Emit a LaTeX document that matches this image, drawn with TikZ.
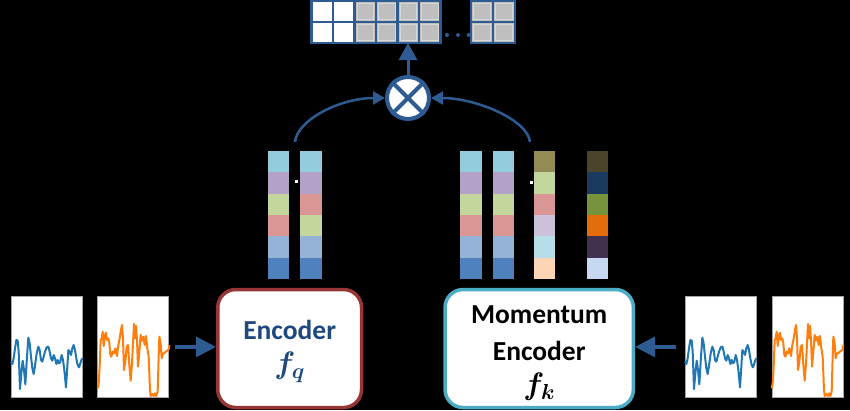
\RequirePackage{fix-cm}
\documentclass[tikz,border=0pt]{standalone}
\usepackage{fontspec}
\setmainfont{Carlito}
\usepackage{bm}
\usetikzlibrary{arrows.meta}
\definecolor{arrowblue}{HTML}{2E5C92}
\definecolor{encblue}{HTML}{1F497D}
\definecolor{encred}{HTML}{963634}
\definecolor{momcyan}{HTML}{4BACC6}
\definecolor{qgray}{HTML}{BFBFBF}
\definecolor{qlight}{HTML}{D6D6D6}
\definecolor{wblue}{HTML}{1F77B4}
\definecolor{worange}{HTML}{FF7F0E}
\definecolor{cLB}{HTML}{93CDDD}
\definecolor{cLAV}{HTML}{B3A2C7}
\definecolor{cGR}{HTML}{C3D69B}
\definecolor{cPK}{HTML}{D99694}
\definecolor{cSB}{HTML}{95B3D7}
\definecolor{cBL}{HTML}{4F81BD}
\definecolor{cOL}{HTML}{948A54}
\definecolor{cPL}{HTML}{CCC1DA}
\definecolor{cCY}{HTML}{B7DEE8}
\definecolor{cPE}{HTML}{FCD5B5}
\definecolor{cDO}{HTML}{4A452A}
\definecolor{cNV}{HTML}{1B3A60}
\definecolor{cOG}{HTML}{77933C}
\definecolor{cOR}{HTML}{E46C0A}
\definecolor{cDP}{HTML}{403151}
\definecolor{cPB}{HTML}{C6D9F1}
\newcommand{\mathbig}[2]{{\fontsize{31}{36}\selectfont$\bm{#1}_{\bm{#2}}$}}
\tikzset{
  panel/.style={draw=gray!70, fill=white, line width=0.8pt, minimum width=71pt, minimum height=101.7pt, inner sep=0pt},
  encbox/.style={fill=white, line width=3.5pt, rounded corners=18pt, minimum height=118pt, inner sep=0pt},
  boxtext/.style={align=center, inner sep=0pt, font=\fontsize{27.5}{36.5}\selectfont\bfseries},
  wave/.style={line width=2pt, line join=round},
  bigarrow/.style={draw=arrowblue, line width=3.5pt, -{Triangle[length=20pt,width=20pt]}},
  sidearrow/.style={draw=arrowblue, line width=2.5pt, -{Triangle[length=12pt,width=13pt]}},
}
\begin{document}
\begin{tikzpicture}[x=1pt,y=-1pt]
\fill[black] (0,0) rectangle (850,410);
\useasboundingbox (0,0) rectangle (850,410);

% queue
\node (queue) [minimum width=129pt, minimum height=42pt, inner sep=0pt, outer sep=0pt] at (376.2,22) {};
\fill[white] (311.7,1) rectangle (354.7,43);
\fill[qgray] (354.7,1) rectangle (440.7,43);
\fill[qgray] (471,1) rectangle (515,43);
\foreach \i in {2,...,5}{
  \draw[qlight, line width=0.8pt] ({311.7+21.5*\i+2.5},3.5) rectangle ++(16.5,16);
  \draw[qlight, line width=0.8pt] ({311.7+21.5*\i+2.5},24.5) rectangle ++(16.5,16);
}
\foreach \i in {0,1}{
  \draw[qlight, line width=0.8pt] ({471+22*\i+2.5},3.5) rectangle ++(17,16);
  \draw[qlight, line width=0.8pt] ({471+22*\i+2.5},24.5) rectangle ++(17,16);
}
\draw[arrowblue, line width=2.5pt] (311.7,1) rectangle (440.7,43) (311.7,22) -- (440.7,22);
\foreach \i in {1,...,5}{ \draw[arrowblue, line width=2.5pt] ({311.7+21.5*\i},1) -- ++(0,42); }
\draw[arrowblue, line width=2.5pt] (471,1) rectangle (515,43) (471,22) -- (515,22) (493,1) -- (493,43);
\foreach \x in {447,458,468.5}{ \fill[arrowblue] (\x,35) circle (2pt); }

% multiplication circle
\node (mult) [circle, draw=arrowblue, fill=white, line width=4pt, minimum size=42pt, inner sep=0pt] at (408,98) {};
\draw[arrowblue, line width=4pt] (mult.north west) -- (mult.south east) (mult.north east) -- (mult.south west);
\draw[draw=arrowblue, line width=3pt, -{Triangle[length=17pt,width=18pt]}] (mult.north) -- (mult.north |- queue.south);

% columns
\foreach \x/\cols in {267.7/{cLB,cLAV,cGR,cPK,cSB,cBL}, 300/{cLB,cLAV,cPK,cGR,cSB,cBL}, 460/{cLB,cLAV,cGR,cPK,cSB,cBL}, 492.7/{cLB,cLAV,cGR,cPK,cSB,cBL}, 533.7/{cOL,cGR,cPK,cPL,cCY,cPE}, 586.7/{cDO,cNV,cOG,cOR,cDP,cPB}}{
  \foreach \c [count=\i from 0] in \cols {
    \fill[\c] (\x,{151+21.333*\i}) rectangle ++(21.6,21.333);
  }
}
\fill[white] (294.5,180.2) rectangle ++(3,3);
\fill[white] (529.5,180.5) rectangle ++(3,3);

\coordinate (lq) at (295,142);
\coordinate (rk) at (530,142);
\draw[sidearrow] (lq) .. controls (297,120) and (340,98) .. (mult.west);
\draw[sidearrow] (rk) .. controls (528,120) and (476,98) .. (mult.east);

% encoders
\node (enc) [encbox, draw=encred, minimum width=143.8pt] at (289.65,348.5) {};
\node (mom) [encbox, draw=momcyan, minimum width=188.3pt] at (539.2,348.5) {};
\node (enctext) [boxtext, text=encblue] at ([yshift=-3pt]enc.center) {Encoder\\[-2pt]\mathbig{f}{q}};
\node (momtext) [boxtext, text=black] at ([yshift=-5pt]mom.center) {Momentum\\Encoder\\[-2pt]\mathbig{f}{k}};

% panels
\node (p1) [panel] at (47.2,346.9) {};
\node (p2) [panel] at (133.3,346.9) {};
\node (p3) [panel] at (720.9,346.9) {};
\node (p4) [panel] at (807.4,346.9) {};

\foreach \sx in {5,679}{
\begin{scope}[shift={(\sx,290)}, scale=1/3]
\draw[wave, wblue] (18,215)--(22,222)--(26,205)--(30,175)--(34,150)--(38,152)--(41,185)--(45,297)--(49,250)--(53,212)--(57,240)--(61,283)--(65,215)--(70,143)--(74,160)--(78,200)--(82,235)--(86,252)--(90,228)--(95,190)--(100,170)--(104,180)--(108,210)--(112,215)--(116,200)--(120,185)--(125,172)--(130,170)--(134,185)--(138,205)--(142,212)--(146,195)--(150,205)--(154,222)--(158,210)--(162,220)--(166,215)--(170,195)--(174,210)--(178,240)--(183,292)--(187,230)--(190,180)--(194,185)--(198,195)--(202,175)--(206,165)--(210,180)--(214,205)--(218,225)--(222,232)--(226,220)--(230,208)--(233,205);
\draw[wave, worange] (278,295)--(281,280)--(284,230)--(287,150)--(290,145)--(293,125)--(296,168)--(300,135)--(303,128)--(306,150)--(310,145)--(313,160)--(316,195)--(319,200)--(323,185)--(327,190)--(331,175)--(336,198)--(340,165)--(344,145)--(348,120)--(351,105)--(354,145)--(357,240)--(361,215)--(365,170)--(369,165)--(373,225)--(377,272)--(381,220)--(384,160)--(387,102)--(390,145)--(393,108)--(396,150)--(399,230)--(403,185)--(407,135)--(411,152)--(415,140)--(419,165)--(423,138)--(427,175)--(431,200)--(435,300)--(437,318)--(442,312)--(446,318)--(450,310)--(454,318)--(458,305)--(461,200)--(463,140)--(467,160)--(470,205)--(474,190)--(478,190)--(482,185)--(487,182)--(491,178)--(493,165);
\end{scope}
}

\draw[bigarrow, shorten <=6pt] (p2.east) -- (enc.west |- p2.east);
\draw[bigarrow, shorten <=9pt] (p3.west) -- (mom.east |- p3.west);
\end{tikzpicture}
\end{document}
